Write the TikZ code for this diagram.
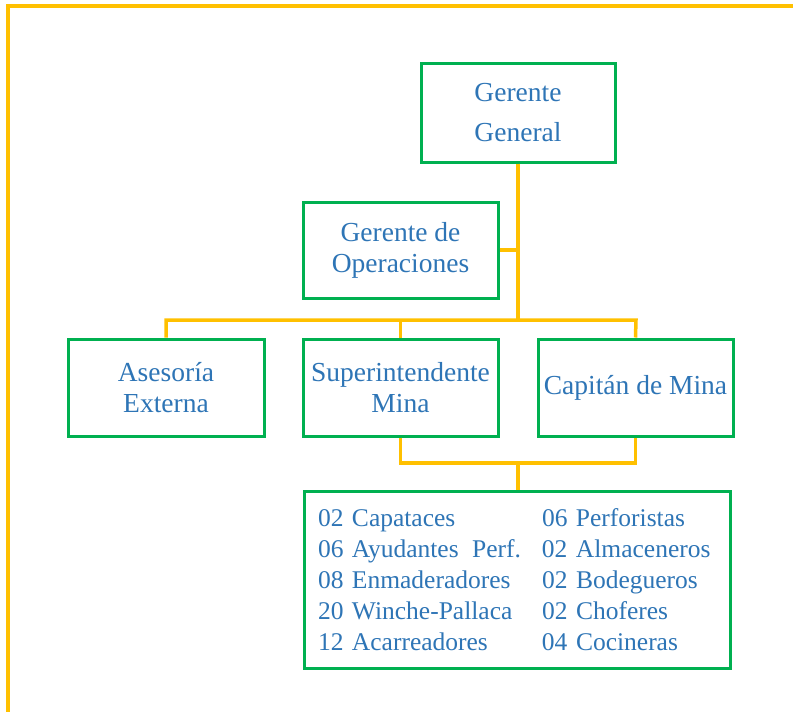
\documentclass[tikz,border=0pt]{standalone}
\usepackage{fontspec}
\setmainfont{Liberation Serif}
\definecolor{frameY}{HTML}{FFC000}
\definecolor{boxG}{HTML}{00B050}
\definecolor{txtB}{HTML}{2E75B6}
\begin{document}
\begin{tikzpicture}[x=1pt,y=-1pt,
  orgbox/.style={draw=boxG, line width=3pt, fill=white, minimum width=195pt, minimum height=97pt,
    inner sep=0pt, align=center, text=txtB, font=\fontsize{27.5}{31}\selectfont},
  conn/.style={draw=frameY, line width=3.5pt},
  frame/.style={draw=frameY, line width=4pt}]
\useasboundingbox (0,0) rectangle (793,712);
\draw[frame] (8,714) -- (8,6) -- (795,6);

\node[orgbox, minimum width=194pt, minimum height=99pt, font=\fontsize{27.5}{40}\selectfont] (gg) at (518,112.5) {Gerente\\General};
\node[orgbox, minimum height=96pt] (gdo) at (400.5,250) {Gerente de\\Operaciones};
\node[orgbox, minimum width=196pt] (ase) at (166,387.5) {Asesoría\\Externa};
\node[orgbox] (sup) at (400.5,387.5) {Superintendente\\Mina};
\node[orgbox] (cap) at (635.5,387.5) {Capitán de Mina};
\node[orgbox, minimum width=426pt, minimum height=177pt, text width=398pt, inner xsep=14pt, align=left,
  font=\fontsize{25.5}{31}\selectfont] (staff) at (517,579.5)
  {\makebox[224pt][l]{02 Capataces}06 Perforistas\\
   \makebox[224pt][l]{06 Ayudantes\hspace{5pt} Perf.}02 Almaceneros\\
   \makebox[224pt][l]{08 Enmaderadores}02 Bodegueros\\
   \makebox[224pt][l]{20 Winche-Pallaca}02 Choferes\\
   \makebox[224pt][l]{12 Acarreadores}04 Cocineras};

\coordinate (busL) at (166,320);
\coordinate (busM) at (518,320);
\coordinate (busR) at (636,320);
\coordinate (low) at (518,463);

\draw[conn] (gg.south) -- (busM);
\draw[conn] (gdo.east) -- (gdo.east -| gg.south);
\draw[conn] (ase.north) -- (busL) -- (busR) -- (cap.north);
\draw[conn] (sup.north) -- (sup.north |- busL);
\draw[conn] (sup.south) -- (sup.south |- low) -- (cap.south |- low) -- (cap.south);
\draw[conn] (low) -- (low |- staff.north);
\end{tikzpicture}
\end{document}
